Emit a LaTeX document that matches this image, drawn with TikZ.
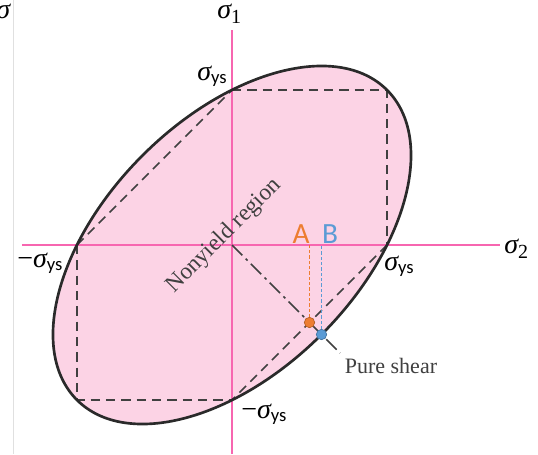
\documentclass[tikz,border=0pt]{standalone}
\usepackage{fontspec}
\setmainfont{Liberation Serif}
\newfontfamily\calibri{Carlito}
\usetikzlibrary{calc}

\definecolor{axispink}{HTML}{F766B0}
\definecolor{regionpink}{HTML}{FCD3E5}
\definecolor{curvegray}{HTML}{2A2A2A}
\definecolor{dashgray}{HTML}{404040}
\definecolor{pointorange}{HTML}{ED7D31}
\definecolor{pointblue}{HTML}{5B9BD5}

\newcommand{\sig}{{\itshape σ}}
\newcommand{\ys}{\raisebox{-2.5pt}{\fontsize{14}{16}\calibri ys}}

\begin{document}
\begin{tikzpicture}[x=0.75pt,y=0.75pt,
    siglabel/.style={inner sep=0pt,anchor=base west,font=\fontsize{21}{24}\selectfont},
    axisline/.style={axispink,line width=1.5pt},
    trescaline/.style={dashgray,line width=1.1pt,dash pattern=on 7pt off 4.5pt},
    shearline/.style={dashgray,line width=1.2pt,dash pattern=on 11pt off 3.5pt on 2pt off 3.5pt},
    pointline/.style={line width=0.9pt,dash pattern=on 2.5pt off 1.5pt}]
\useasboundingbox (-232,-209) rectangle (306,245);

% Points of the diagram
\coordinate (O) at (0,0);
\coordinate (yR) at (155,0);
\coordinate (yT) at (0,155);
\coordinate (yL) at (-155,0);
\coordinate (yB) at (0,-155);
\coordinate (cTR) at (155,155);
\coordinate (cBL) at (-155,-155);
\coordinate (A) at (77.5,-77.5);
\coordinate (B) at (89.5,-89.5);
\coordinate (shearEnd) at (108,-108);

% Left frame line
\draw[black!12,line width=0.75pt] (-218,-209) -- (-218,245);
\node[siglabel] (sigCut) at (-236,227) {\sig};

% Nonyield region
\fill[regionpink,rotate=45] (O) ellipse (219.2 and 126.6);

% Axes
\draw[axisline] (-210,0) -- (268,0);
\draw[axisline] (0,-209) -- (0,215);

% Tresca hexagon
\draw[trescaline] (yT) -- (cTR) -- (yR);
\draw[trescaline] (yL) -- (yT);
\draw[trescaline] (yR) -- (yB);
\draw[trescaline] (yL) -- (cBL) -- (yB);

% Pure shear line
\draw[shearline] (O) -- (shearEnd);

% Projections of A and B
\draw[pointline,pointorange] (A) -- (A |- O);
\draw[pointline,pointblue] (B) -- (B |- O);

% Von Mises ellipse
\draw[curvegray,line width=2pt,rotate=45] (O) ellipse (219.2 and 126.6);

\filldraw[fill=pointorange,draw=pointorange!75!black,line width=0.5pt] (A) circle (5.2);
\filldraw[fill=pointblue,draw=pointblue!75!black,line width=0.5pt] (B) circle (5.2);

% Labels
\node[siglabel] (sigOne) at (-15,227) {\sig\raisebox{-4pt}{\fontsize{15}{17}\selectfont 1}};
\node[siglabel] (sigTwo) at (272,-8) {\sig\raisebox{-4pt}{\fontsize{15}{17}\selectfont 2}};
\node[siglabel] (ysTop) at (-35,165) {\sig\ys};
\node[siglabel] (ysRight) at (152,-25) {\sig\ys};
\node[siglabel] (ysLeft) at (-215,-22) {−\sig\ys};
\node[siglabel] (ysBottom) at (9,-173) {−\sig\ys};

\node[font=\calibri\fontsize{22}{24}\selectfont,text=pointorange,inner sep=0pt] (lblA) at (69,11) {A};
\node[font=\calibri\fontsize{22}{24}\selectfont,text=pointblue,inner sep=0pt] (lblB) at (98,11) {B};

\node[font=\fontsize{16.5}{18}\selectfont,text=dashgray,inner sep=0pt] (lblShear) at (159,-121) {Pure shear};
\node[font=\fontsize{17.5}{19}\selectfont,text=dashgray,inner sep=0pt,rotate=45] (lblRegion) at (-8,9) {Nonyield region};
\end{tikzpicture}
\end{document}
